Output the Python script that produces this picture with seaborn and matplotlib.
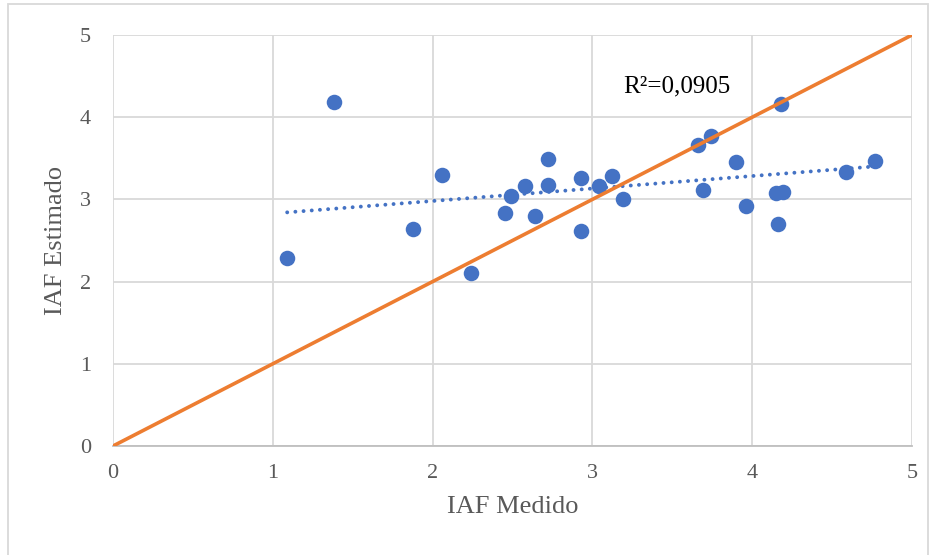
import numpy as np
import pandas as pd
import matplotlib
matplotlib.use("Agg")
import matplotlib.pyplot as plt
import seaborn as sns
from matplotlib.patches import Rectangle

iaf_medido = [1.09, 1.38, 1.88, 2.06, 2.24, 2.45, 2.49, 2.58, 2.64, 2.72, 2.72,
              2.93, 2.93, 3.04, 3.12, 3.19, 3.66, 3.69, 3.74, 3.90, 3.96,
              4.15, 4.16, 4.18, 4.19, 4.59, 4.77]
iaf_estimado = [2.29, 4.19, 2.64, 3.30, 2.10, 2.84, 3.04, 3.16, 2.80, 3.49, 3.18,
                3.26, 2.61, 3.16, 3.29, 3.00, 3.66, 3.11, 3.77, 3.46, 2.92,
                3.08, 2.70, 4.16, 3.09, 3.33, 3.47]
line_11 = [0, 5]
r2_label = "R²=0,0905"

BLUE = "#4472C4"
ORANGE = "#ED7D31"
GRID = "#D9D9D9"
TICK = "#595959"

df = pd.DataFrame({"medido": iaf_medido, "estimado": iaf_estimado})

sns.set_style("white")
plt.rcParams['font.family'] = ['Liberation Serif', 'DejaVu Serif']

fig = plt.figure(figsize=(9.37, 5.55), dpi=100)
ax = fig.add_axes([113 / 937, 1 - 446 / 555, 799 / 937, 411 / 555])

sns.scatterplot(data=df, x="medido", y="estimado", ax=ax, color=BLUE,
                s=125, linewidth=0, zorder=3)

# 1:1 line
sns.lineplot(x=line_11, y=line_11, ax=ax, color=ORANGE, linewidth=2.6, zorder=4)

# linear trend line
slope, intercept = np.polyfit(iaf_medido, iaf_estimado, 1)
xs = np.array([min(iaf_medido), max(iaf_medido)])
ax.plot(xs, slope * xs + intercept, color=BLUE, linewidth=2.8,
        linestyle=(0, (0.01, 2.1)), dash_capstyle="round", zorder=2)

ax.text(3.19, 4.38, r2_label, fontsize=18, color="black", va="center", ha="left")

ax.set_xlim(0, 5)
ax.set_ylim(0, 5)
ax.set_xticks(range(6))
ax.set_yticks(range(6))
ax.grid(True, color=GRID, linewidth=1.3)
ax.set_axisbelow(True)
for side in ["top", "right", "left"]:
    ax.spines[side].set_visible(False)
ax.spines["bottom"].set_color("#BFBFBF")
ax.spines["bottom"].set_linewidth(1.3)
ax.tick_params(axis="both", length=0, labelsize=16, labelcolor=TICK)
ax.tick_params(axis="x", pad=13)
ax.tick_params(axis="y", pad=16)
ax.set_xlabel("IAF Medido", fontsize=19, color=TICK, labelpad=9)
ax.set_ylabel("IAF Estimado", fontsize=19, color=TICK, labelpad=9)

# chart border
fig.patches.append(Rectangle((8 / 937, -0.02), 920 / 937, 1.012, transform=fig.transFigure,
                             fill=False, edgecolor=GRID, linewidth=1.3))

fig.savefig("out.png", dpi=100)
